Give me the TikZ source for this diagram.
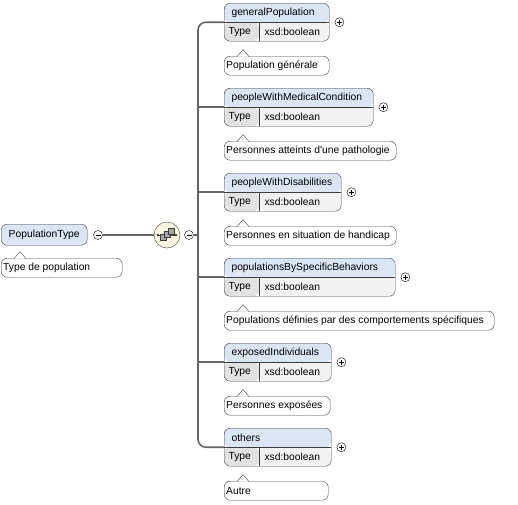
\documentclass[tikz,border=0pt]{standalone}
\usepackage{fontspec}
\setmainfont{Liberation Sans}
\usetikzlibrary{positioning}
\definecolor{hdrblue}{HTML}{DAE5F6}
\definecolor{typegray}{HTML}{E2E2E2}
\definecolor{valgray}{HTML}{F2F2F2}
\definecolor{seqyellow}{HTML}{FBF8DF}
\definecolor{linegray}{HTML}{666666}
\definecolor{edgegray}{HTML}{3C3C3C}
\tikzset{
  elem/.style={draw=edgegray, rounded corners=6pt, minimum height=38pt, inner sep=0pt, anchor=north west,
    path picture={
      \fill[hdrblue] (path picture bounding box.north west) rectangle (path picture bounding box.east);
      \fill[typegray] (path picture bounding box.west) rectangle ([xshift=35pt]path picture bounding box.south west);
      \fill[valgray] ([xshift=35pt]path picture bounding box.west) rectangle (path picture bounding box.south east);
      \draw[edgegray] (path picture bounding box.west) -- (path picture bounding box.east);
      \draw[edgegray] ([xshift=35pt]path picture bounding box.west) -- ([xshift=35pt]path picture bounding box.south west);
    }},
  rootbox/.style={draw=edgegray, fill=hdrblue, rounded corners=6pt, minimum height=21pt, inner xsep=7.5pt, inner ysep=0pt, anchor=north west},
  ann/.style={draw=edgegray, fill=white, rounded corners=6pt, minimum height=19pt, inner xsep=2pt, inner ysep=0pt, anchor=north west},
  pm/.style={circle, draw=black, fill=white, minimum size=9pt, inner sep=0pt},
  minus/.style={pm, path picture={\draw ([xshift=-2.5pt]path picture bounding box.center) -- ([xshift=2.5pt]path picture bounding box.center);}},
  plus/.style={pm, path picture={\draw ([xshift=-2.5pt]path picture bounding box.center) -- ([xshift=2.5pt]path picture bounding box.center);
    \draw ([yshift=-2.5pt]path picture bounding box.center) -- ([yshift=2.5pt]path picture bounding box.center);}},
  seq/.style={circle, draw=edgegray, fill=seqyellow, minimum size=26pt, inner sep=0pt},
  conn/.style={draw=linegray, line width=1.6pt},
}
\begin{document}
\begin{tikzpicture}[x=1pt, y=-1pt, font=\fontsize{10.3}{12}\selectfont]
	\useasboundingbox (0,0) rectangle (518,504);

	%Root
	\node[rootbox] (root) at (1,224) {PopulationType};
	\node[minus] (rm) at (98,235) {};
	\node[ann] (ra) at (1,258) {\makebox[117pt][l]{Type de population}};
	\draw[edgegray, fill=white] ([xshift=13pt,yshift=-0.6pt]ra.north west) -- ++(6,-7) -- ++(6,7);

	%Sequence
	\node[seq] (seq) at (167,235) {};
	\node[minus] (sm) at (189,235) {};
	\draw[conn] (rm.east) -- (seq.west);
	\draw[conn] (sm.east) -- ++(5,0);
	\begin{scope}[shift={(seq.center)}]
		\draw[edgegray, line width=0.8pt] (-9,0) -- (9,0);
		\fill[edgegray] (-9,0) circle (1.3) (9,0) circle (1.3);
		\draw[edgegray, fill=gray!70] (-7,-1) rectangle (-1,5);
		\draw[edgegray, fill=gray!70] (-3,-4) rectangle (3,2);
		\draw[edgegray, fill=gray!70] (1,-7) rectangle (7,-1);
	\end{scope}

	%Elements (annotation widths are inner widths)
	\foreach \i/\nm/\w/\ann/\aw in {
		1/generalPopulation/105/Population générale/101,
		2/peopleWithMedicalCondition/149/Personnes atteints d\textquotesingle{}une pathologie/168,
		3/peopleWithDisabilities/117/Personnes en situation de handicap/168,
		4/populationsBySpecificBehaviors/171/Populations définies par des comportements spécifiques/266,
		5/exposedIndividuals/107/Personnes exposées/102,
		6/others/107/Autre/100}{
		\pgfmathsetmacro\tp{3+85*(\i-1)}
		\node[elem, minimum width=\w pt] (e\i) at (224,\tp) {};
		\node[anchor=west] (n\i) at ([xshift=4pt,yshift=9pt]e\i.west) {\nm};
		\node[anchor=west] (ty\i) at ([xshift=1pt,yshift=-9.5pt]e\i.west) {Type};
		\node[anchor=west] (v\i) at ([xshift=37pt,yshift=-9.5pt]e\i.west) {xsd:boolean};
		\node[plus] (p\i) at ([xshift=10pt]e\i.east) {};
		\node[ann] (a\i) at (224,\tp+53) {\makebox[\aw pt][l]{\ann}};
		\draw[edgegray, fill=white] ([xshift=13pt,yshift=-0.6pt]a\i.north west) -- ++(6,-7) -- ++(6,7);
	}

	%Connectors
	\draw[conn, rounded corners=8pt] (e1.west) -- ++(-26,0) |- (e6.west);
	\foreach \i in {2,...,5}
		\draw[conn] (e\i.west) -- ++(-26,0);

\end{tikzpicture}
\end{document}
